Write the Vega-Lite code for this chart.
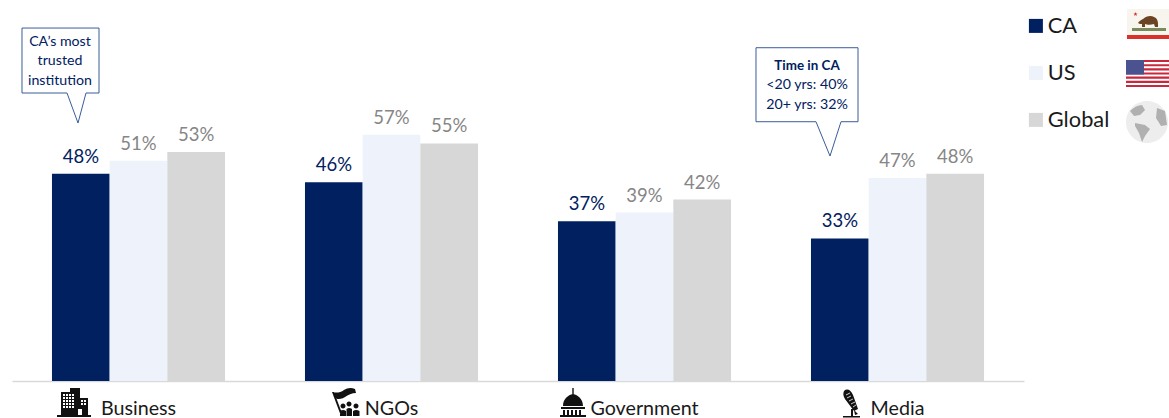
{
  "$schema": "https://vega.github.io/schema/vega-lite/v6.json",
  "width": 1012,
  "height": 381,
  "autosize": {"type": "none"},
  "padding": {"left": 12, "top": 0, "right": 145, "bottom": 37},
  "background": "white",
  "config": {"view": {"stroke": null}, "font": "Lato"},
  "data": {"values": [
    {"sector": "Business", "region": "CA", "share": 48},
    {"sector": "Business", "region": "US", "share": 51},
    {"sector": "Business", "region": "Global", "share": 53},
    {"sector": "NGOs", "region": "CA", "share": 46},
    {"sector": "NGOs", "region": "US", "share": 57},
    {"sector": "NGOs", "region": "Global", "share": 55},
    {"sector": "Government", "region": "CA", "share": 37},
    {"sector": "Government", "region": "US", "share": 39},
    {"sector": "Government", "region": "Global", "share": 42},
    {"sector": "Media", "region": "CA", "share": 33},
    {"sector": "Media", "region": "US", "share": 47},
    {"sector": "Media", "region": "Global", "share": 48}
  ]},
  "resolve": {"scale": {"x": "independent"}},
  "layer": [
    {
      "mark": {"type": "bar"},
      "encoding": {
        "x": {
          "field": "sector", "type": "nominal",
          "scale": {"domain": ["Business", "NGOs", "Government", "Media"], "paddingInner": 0.316, "paddingOuter": 0.158},
          "axis": {"title": null, "ticks": false, "labelAngle": 0, "domainColor": "#D9D9D9", "domainWidth": 1.5, "labelFont": "Lato", "labelFontSize": 19.7, "labelColor": "#1a1a1a", "labelPadding": 27, "labelBaseline": "middle", "grid": false}
        },
        "xOffset": {"field": "region", "type": "nominal", "scale": {"domain": ["CA", "US", "Global"]}},
        "y": {"field": "share", "type": "quantitative", "scale": {"domain": [0, 88.2], "nice": false, "zero": false}, "axis": null},
        "color": {
          "field": "region", "type": "nominal",
          "scale": {"domain": ["CA", "US", "Global"], "range": ["#002060", "#EEF3FB", "#D7D7D7"]},
          "legend": {"title": null, "orient": "none", "legendX": 1013, "legendY": 15, "symbolType": "square", "symbolSize": 196, "symbolStrokeWidth": 0, "labelFont": "Lato", "labelFontSize": 21.8, "labelColor": "#1a1a1a", "labelOffset": 1, "rowPadding": 24, "padding": 0}
        }
      }
    },
    {
      "transform": [{"calculate": "datum.share + '%'", "as": "shareLabel"}],
      "mark": {"type": "text", "baseline": "middle", "dy": -17, "font": "Lato", "fontSize": 18.5},
      "encoding": {
        "x": {"field": "sector", "type": "nominal", "scale": {"domain": ["Business", "NGOs", "Government", "Media"], "paddingInner": 0.316, "paddingOuter": 0.158}, "axis": null},
        "xOffset": {"field": "region", "type": "nominal", "scale": {"domain": ["CA", "US", "Global"]}},
        "y": {"field": "share", "type": "quantitative"},
        "text": {"field": "shareLabel", "type": "nominal"},
        "color": {"condition": {"test": "datum.region === 'CA'", "value": "#002060"}, "value": "#868686"}
      }
    },
    {
      "data": {"values": [
        {"callout": "a", "step": 0, "pos": -0.4605, "share": 81.71},
        {"callout": "a", "step": 1, "pos": -0.1561, "share": 81.71},
        {"callout": "a", "step": 2, "pos": -0.1561, "share": 66.67},
        {"callout": "a", "step": 3, "pos": -0.2075, "share": 66.67},
        {"callout": "a", "step": 4, "pos": -0.2391, "share": 59.72},
        {"callout": "a", "step": 5, "pos": -0.2826, "share": 66.67},
        {"callout": "a", "step": 6, "pos": -0.4605, "share": 66.67},
        {"callout": "a", "step": 7, "pos": -0.4605, "share": 81.71},
        {"callout": "b", "step": 0, "pos": 2.4407, "share": 77.15},
        {"callout": "b", "step": 1, "pos": 2.8439, "share": 77.15},
        {"callout": "b", "step": 2, "pos": 2.8439, "share": 60.02},
        {"callout": "b", "step": 3, "pos": 2.7767, "share": 60.02},
        {"callout": "b", "step": 4, "pos": 2.7332, "share": 52.08},
        {"callout": "b", "step": 5, "pos": 2.6779, "share": 60.02},
        {"callout": "b", "step": 6, "pos": 2.4407, "share": 60.02},
        {"callout": "b", "step": 7, "pos": 2.4407, "share": 77.15}
      ]},
      "mark": {"type": "line", "color": "#3B5C9A", "strokeWidth": 1, "point": false},
      "encoding": {
        "x": {"field": "pos", "type": "quantitative", "scale": {"domain": [-0.5, 3.5], "nice": false, "zero": false}, "axis": null},
        "y": {"field": "share", "type": "quantitative"},
        "detail": {"field": "callout"},
        "order": {"field": "step", "type": "quantitative"}
      }
    },
    {
      "data": {"values": [
        {"note": "CA’s most", "pos": -0.3103, "share": 78.47},
        {"note": "trusted", "pos": -0.3103, "share": 74.07},
        {"note": "institution", "pos": -0.3103, "share": 69.44},
        {"note": "<20 yrs: 40%", "pos": 2.6423, "share": 68.52},
        {"note": "20+ yrs: 32%", "pos": 2.6423, "share": 63.89}
      ]},
      "mark": {"type": "text", "font": "Lato", "fontSize": 14.2, "color": "#002060", "baseline": "middle"},
      "encoding": {
        "x": {"field": "pos", "type": "quantitative", "scale": {"domain": [-0.5, 3.5], "nice": false, "zero": false}, "axis": null},
        "y": {"field": "share", "type": "quantitative"},
        "text": {"field": "note"}
      }
    },
    {
      "data": {"values": [{"note": "Time in CA", "pos": 2.6423, "share": 72.92}]},
      "mark": {"type": "text", "font": "Lato", "fontSize": 13.4, "fontWeight": "bold", "color": "#002060", "baseline": "middle"},
      "encoding": {
        "x": {"field": "pos", "type": "quantitative", "scale": {"domain": [-0.5, 3.5], "nice": false, "zero": false}, "axis": null},
        "y": {"field": "share", "type": "quantitative"},
        "text": {"field": "note"}
      }
    },
    {
      "data": {"values": [{"icon": "building", "pos": -0.2549, "share": -4.86}]},
      "mark": {"type": "point", "filled": true, "size": 4, "opacity": 1, "color": "#111111", "strokeWidth": 0,
        "shape": "M-17 13H17V15H-17ZM-13 -10H-4V-14H6V-4H14V13H-13ZM-11 -8v2h2v-2zM-8 -8v2h2v-2zM-5 -8v2h2v-2zM-2 -8v2h2v-2zM-11 -5v2h2v-2zM-8 -5v2h2v-2zM-5 -5v2h2v-2zM-2 -5v2h2v-2zM-11 -2v2h2v-2zM-8 -2v2h2v-2zM-5 -2v2h2v-2zM-2 -2v2h2v-2zM-11 1v2h2v-2zM-8 1v2h2v-2zM-5 1v2h2v-2zM-2 1v2h2v-2zM-11 4v2h2v-2zM-8 4v2h2v-2zM-5 4v2h2v-2zM-2 4v2h2v-2zM7 -2v2h2v-2zM10 -2v2h2v-2zM7 1v2h2v-2zM10 1v2h2v-2zM4 7v6h4v-6z"},
      "encoding": {
        "x": {"field": "pos", "type": "quantitative", "scale": {"domain": [-0.5, 3.5], "nice": false, "zero": false}, "axis": null},
        "y": {"field": "share", "type": "quantitative"}
      }
    },
    {
      "data": {"values": [{"icon": "flag and people", "pos": 0.8202, "share": -4.86}]},
      "mark": {"type": "point", "filled": true, "size": 4, "opacity": 1, "color": "#111111", "strokeWidth": 0,
        "shape": "M-14 -10C-10 -9 -6 -9 -2 -12C1 -14 5 -15 9 -13L10 -9C6 -9 2 -7 -1 -5C-4 -3 -7 -3 -9 -3ZM-14 -10L-12 -10L-3 14L-5 14ZM-5.5 4a2.5 2.5 0 1 0 5 0a2.5 2.5 0 1 0 -5 0ZM0.5 2a2.5 2.5 0 1 0 5 0a2.5 2.5 0 1 0 -5 0ZM7.5 4a2.5 2.5 0 1 0 5 0a2.5 2.5 0 1 0 -5 0ZM-6 14V9Q-3 7 0 9V14ZM0.5 14V7Q3 5 6 7V14ZM7 14V9Q10 7 13.5 9V14Z"},
      "encoding": {
        "x": {"field": "pos", "type": "quantitative", "scale": {"domain": [-0.5, 3.5], "nice": false, "zero": false}, "axis": null},
        "y": {"field": "share", "type": "quantitative"}
      }
    },
    {
      "data": {"values": [{"icon": "capitol", "pos": 1.7174, "share": -4.86}]},
      "mark": {"type": "point", "filled": true, "size": 4, "opacity": 1, "color": "#111111", "strokeWidth": 0,
        "shape": "M-0.7 -14H0.7V-7H-0.7ZM-10 4C-10 -3 -5 -7 0 -8C5 -7 10 -3 10 4ZM-12 5H12V7H-12ZM-10 8h2v5h-2zM-6 8h2v5h-2zM-2 8h2v5h-2zM2 8h2v5h-2zM6 8h2v5h-2zM-13 13H13V15H-13Z"},
      "encoding": {
        "x": {"field": "pos", "type": "quantitative", "scale": {"domain": [-0.5, 3.5], "nice": false, "zero": false}, "axis": null},
        "y": {"field": "share", "type": "quantitative"}
      }
    },
    {
      "data": {"values": [{"icon": "microphone", "pos": 2.8162, "share": -5.09}]},
      "mark": {"type": "point", "filled": true, "size": 4, "opacity": 1, "color": "#111111", "strokeWidth": 0,
        "shape": "M-7 -12C-4 -15 0 -13 2 -8L7 6L3 8L-6 -4C-8 -7 -8 -10 -7 -12ZM0 6H2V13H0ZM-8 13H9V14.5H-8ZM3 7L7 11L4 12Z"},
      "encoding": {
        "x": {"field": "pos", "type": "quantitative", "scale": {"domain": [-0.5, 3.5], "nice": false, "zero": false}, "axis": null},
        "y": {"field": "share", "type": "quantitative"}
      }
    },
    {
      "data": {"values": [{"icon": "microphone grille", "pos": 2.8162, "share": -5.09}]},
      "mark": {"type": "point", "filled": false, "size": 4, "opacity": 1, "color": "#FFFFFF", "strokeWidth": 0.8,
        "shape": "M-5 -8L-1 -10M-4 -5L0 -7M-2 -2L2 -4M0 1L4 -1M2 4L5 2"},
      "encoding": {
        "x": {"field": "pos", "type": "quantitative", "scale": {"domain": [-0.5, 3.5], "nice": false, "zero": false}, "axis": null},
        "y": {"field": "share", "type": "quantitative"}
      }
    },
    {
      "data": {"values": [{"icon": "state flag field", "pos": 3.9862, "share": 82.64}]},
      "mark": {"type": "point", "filled": true, "size": 4, "opacity": 1, "color": "#F8F5EE", "strokeWidth": 0, "shape": "M-20 -15H22V11H-20Z"},
      "encoding": {
        "x": {"field": "pos", "type": "quantitative", "scale": {"domain": [-0.5, 3.5], "nice": false, "zero": false}, "axis": null},
        "y": {"field": "share", "type": "quantitative"}
      }
    },
    {
      "data": {"values": [{"icon": "state flag stripe and star", "pos": 3.9862, "share": 82.64}]},
      "mark": {"type": "point", "filled": true, "size": 4, "opacity": 1, "color": "#D8322A", "strokeWidth": 0,
        "shape": "M-20 11H22V15H-20ZM-11.5 -12L-10.9 -10.6L-9.5 -10.6L-10.6 -9.6L-10.2 -8L-11.5 -8.9L-12.8 -8L-12.4 -9.6L-13.5 -10.6L-12.1 -10.6Z"},
      "encoding": {
        "x": {"field": "pos", "type": "quantitative", "scale": {"domain": [-0.5, 3.5], "nice": false, "zero": false}, "axis": null},
        "y": {"field": "share", "type": "quantitative"}
      }
    },
    {
      "data": {"values": [{"icon": "state flag bear", "pos": 3.9862, "share": 82.64}]},
      "mark": {"type": "point", "filled": true, "size": 4, "opacity": 1, "color": "#6B4423", "strokeWidth": 0,
        "shape": "M-9 -1C-8 -3 -6 -4 -4 -5C-1 -8 4 -9 7 -7C10 -6 11 -3 11 0L11 3L8 3L7 0C4 1 0 1 -2 0L-2 3L-5 3L-5 0C-6 0 -8 0 -9 -1Z"},
      "encoding": {
        "x": {"field": "pos", "type": "quantitative", "scale": {"domain": [-0.5, 3.5], "nice": false, "zero": false}, "axis": null},
        "y": {"field": "share", "type": "quantitative"}
      }
    },
    {
      "data": {"values": [{"icon": "state flag ground", "pos": 3.9862, "share": 82.64}]},
      "mark": {"type": "point", "filled": true, "size": 4, "opacity": 1, "color": "#7A8A5A", "strokeWidth": 0, "shape": "M-15 4H19V7H-15Z"},
      "encoding": {
        "x": {"field": "pos", "type": "quantitative", "scale": {"domain": [-0.5, 3.5], "nice": false, "zero": false}, "axis": null},
        "y": {"field": "share", "type": "quantitative"}
      }
    },
    {
      "data": {"values": [{"icon": "national flag stripes", "pos": 3.9862, "share": 71.18}]},
      "mark": {"type": "point", "filled": true, "size": 4, "opacity": 1, "color": "#C8283C", "strokeWidth": 0,
        "shape": "M-21 -13.5H22V-11.4H-21ZM-21 -9.3H22V-7.2H-21ZM-21 -5.2H22V-3.1H-21ZM-21 -1H22V1.1H-21ZM-21 3.1H22V5.2H-21ZM-21 7.3H22V9.4H-21ZM-21 11.4H22V13.5H-21Z"},
      "encoding": {
        "x": {"field": "pos", "type": "quantitative", "scale": {"domain": [-0.5, 3.5], "nice": false, "zero": false}, "axis": null},
        "y": {"field": "share", "type": "quantitative"}
      }
    },
    {
      "data": {"values": [{"icon": "national flag canton", "pos": 3.9862, "share": 71.18}]},
      "mark": {"type": "point", "filled": true, "size": 4, "opacity": 1, "color": "#4B5290", "strokeWidth": 0, "shape": "M-21 -13.5H-3V1H-21Z"},
      "encoding": {
        "x": {"field": "pos", "type": "quantitative", "scale": {"domain": [-0.5, 3.5], "nice": false, "zero": false}, "axis": null},
        "y": {"field": "share", "type": "quantitative"}
      }
    },
    {
      "data": {"values": [{"icon": "globe sphere", "pos": 3.9862, "share": 59.95}]},
      "mark": {"type": "point", "filled": true, "size": 4, "opacity": 1, "color": "#EDEDED", "strokeWidth": 0, "shape": "M-21 0a21 21 0 1 0 42 0a21 21 0 1 0 -42 0Z"},
      "encoding": {
        "x": {"field": "pos", "type": "quantitative", "scale": {"domain": [-0.5, 3.5], "nice": false, "zero": false}, "axis": null},
        "y": {"field": "share", "type": "quantitative"}
      }
    },
    {
      "data": {"values": [{"icon": "globe continents", "pos": 3.9862, "share": 59.95}]},
      "mark": {"type": "point", "filled": true, "size": 4, "opacity": 1, "color": "#B0B0B0", "strokeWidth": 0,
        "shape": "M-17 -11C-13 -15 -9 -17 -5 -17L-2 -12L-7 -7L-13 -6ZM-12 1L-2 3L3 7L-2 14L-5 20L-8 11L-12 4ZM10 -14L18 -11L20 3L14 4L9 -4Z"},
      "encoding": {
        "x": {"field": "pos", "type": "quantitative", "scale": {"domain": [-0.5, 3.5], "nice": false, "zero": false}, "axis": null},
        "y": {"field": "share", "type": "quantitative"}
      }
    }
  ]
}
